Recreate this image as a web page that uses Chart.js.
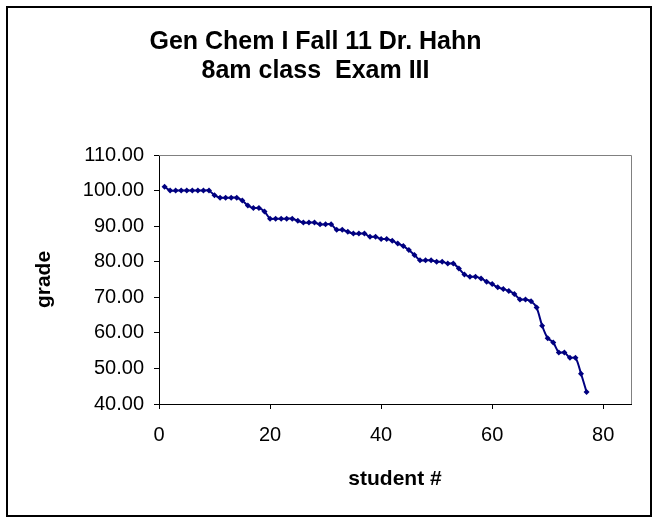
<!DOCTYPE html>
<html>
<head>
<meta charset="utf-8">
<script src="https://cdn.jsdelivr.net/npm/chart.js@4"></script>
<style>
  html, body { margin: 0; padding: 0; background: #fff; }
  #wrap { position: relative; width: 659px; height: 517px; }
</style>
</head>
<body>
<div id="wrap"><canvas id="chart" width="659" height="517"></canvas></div>
<script>
const titleLines = ["Gen Chem I Fall 11 Dr. Hahn", "8am class  Exam III"];
const xTitle = "student #";
const yTitle = "grade";

const students = [
  1, 2, 3, 4, 5, 6, 7, 8, 9, 10, 11, 12, 13, 14, 15, 16, 17, 18, 19, 20,
  21, 22, 23, 24, 25, 26, 27, 28, 29, 30, 31, 32, 33, 34, 35, 36, 37, 38, 39, 40,
  41, 42, 43, 44, 45, 46, 47, 48, 49, 50, 51, 52, 53, 54, 55, 56, 57, 58, 59, 60,
  61, 62, 63, 64, 65, 66, 67, 68, 69, 70, 71, 72, 73, 74, 75, 76, 77
];

const grades = [
  101.1, 100, 100, 100, 100, 100, 100, 100, 100, 98.7,
  98.0, 98.0, 98.0, 98.0, 97.2, 95.8, 95.1, 95.1, 94.1, 92.1,
  92.1, 92.1, 92.1, 92.1, 91.5, 91.0, 91.0, 91.0, 90.5, 90.5,
  90.5, 89.0, 89.0, 88.4, 87.9, 87.9, 87.9, 87.0, 87.0, 86.4,
  86.4, 85.9, 85.1, 84.4, 83.3, 81.9, 80.4, 80.4, 80.4, 80.0,
  80.0, 79.5, 79.5, 78.1, 76.4, 75.8, 75.8, 75.3, 74.4, 73.7,
  72.8, 72.3, 71.8, 70.9, 69.4, 69.4, 68.9, 67.1, 62.0, 58.5,
  57.3, 54.5, 54.5, 53.0, 53.0, 48.5, 43.4
];

const xTicks = [0, 20, 40, 60, 80];

const points = students.map((s, i) => ({ x: s, y: grades[i] }));

const fontFamily = "'Liberation Sans', Arial, sans-serif";

// outer chart border + grey plot frame like the excel export
const framePlugin = {
  id: "frame",
  beforeDraw(chart) {
    const ctx = chart.ctx;
    ctx.save();
    ctx.fillStyle = "#fff";
    ctx.fillRect(0, 0, chart.width, chart.height);
    ctx.strokeStyle = "#000";
    ctx.lineWidth = 2;
    ctx.strokeRect(7, 7, 644, 509);
    ctx.restore();
  },
  afterDatasetsDraw(chart) {
    const a = chart.chartArea;
    const ctx = chart.ctx;
    ctx.save();
    ctx.strokeStyle = "#808080";
    ctx.lineWidth = 1;
    ctx.beginPath();
    ctx.moveTo(a.left, a.top + 0.5);
    ctx.lineTo(a.right + 0.5, a.top + 0.5);
    ctx.lineTo(a.right + 0.5, a.bottom);
    ctx.stroke();
    ctx.restore();
  }
};

new Chart(document.getElementById("chart"), {
  type: "line",
  data: {
    datasets: [
      {
        label: "grade",
        data: points,
        borderColor: "#000080",
        backgroundColor: "#000080",
        borderWidth: 2,
        tension: 0.3,
        pointStyle: "rectRot",
        pointRadius: 3,
        pointBorderWidth: 0,
        fill: false
      }
    ]
  },
  options: {
    responsive: false,
    animation: false,
    layout: { padding: { left: 0, right: 28, top: 0, bottom: 0 } },
    plugins: {
      legend: { display: false },
      tooltip: { enabled: false },
      title: {
        display: true,
        text: titleLines,
        color: "#000",
        font: { family: fontFamily, size: 25, weight: "bold", lineHeight: 1.18 },
        padding: { top: 27, bottom: 69 }
      }
    },
    scales: {
      x: {
        type: "linear",
        min: 0,
        max: 85,
        afterBuildTicks(scale) {
          scale.ticks = xTicks.map((v) => ({ value: v }));
        },
        afterFit(scale) {
          scale.height = 113;
        },
        grid: {
          drawOnChartArea: false,
          drawTicks: true,
          tickLength: 5,
          color: "#000"
        },
        border: { display: true, color: "#000", width: 1 },
        ticks: {
          color: "#000",
          padding: 14,
          maxRotation: 0,
          font: { family: fontFamily, size: 20 }
        },
        title: {
          display: true,
          text: xTitle,
          color: "#000",
          font: { family: fontFamily, size: 21, weight: "bold", lineHeight: 1.2 },
          padding: { top: 0, bottom: 25 }
        }
      },
      y: {
        min: 40,
        max: 110,
        afterFit(scale) {
          scale.width = 159;
        },
        grid: {
          drawOnChartArea: false,
          drawTicks: true,
          tickLength: 5,
          color: "#000"
        },
        border: { display: true, color: "#000", width: 1 },
        ticks: {
          stepSize: 10,
          color: "#000",
          padding: 10,
          font: { family: fontFamily, size: 20 },
          callback: (v) => v.toFixed(2)
        },
        title: {
          display: true,
          text: yTitle,
          color: "#000",
          font: { family: fontFamily, size: 21, weight: "bold", lineHeight: 1.2 },
          padding: { top: 32, bottom: 0 }
        }
      }
    }
  },
  plugins: [framePlugin]
});
</script>
</body>
</html>
